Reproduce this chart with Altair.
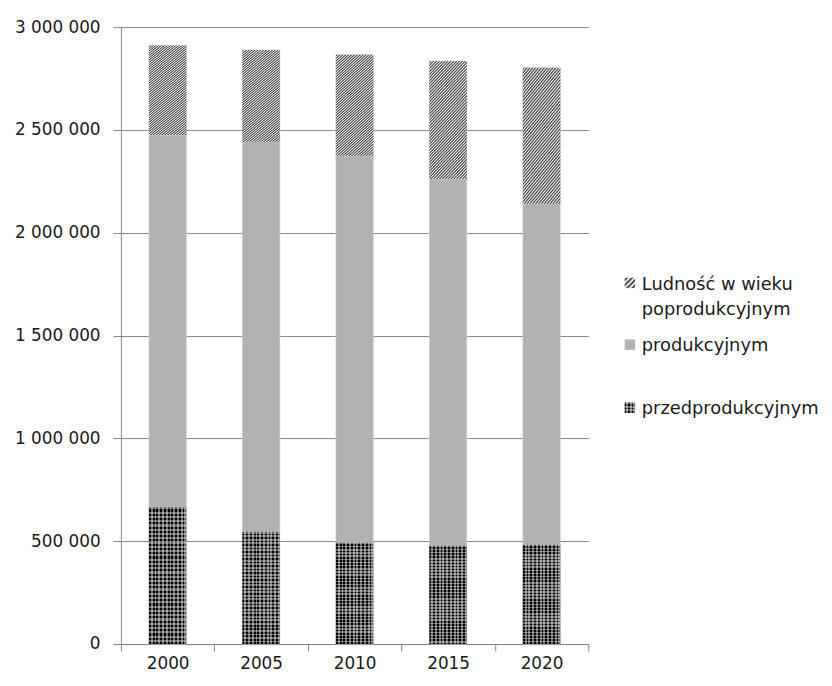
import altair as alt
import pandas as pd

# ---- data ----
years = ["2000", "2005", "2010", "2015", "2020"]
przedprodukcyjny = [665000, 546000, 493000, 478000, 483000]
produkcyjny = [1810000, 1897000, 1881000, 1783000, 1658000]
poprodukcyjny = [436000, 446000, 491000, 573000, 661000]

S_POST = "Ludność w wieku poprodukcyjnym"
S_PROD = "produkcyjnym"
S_PRE = "przedprodukcyjnym"
series = [S_POST, S_PROD, S_PRE]               # legend order (top -> bottom)
stack_rank = {S_PRE: 0, S_PROD: 1, S_POST: 2}  # stacking order (bottom -> top)
y_ticks = [0, 500000, 1000000, 1500000, 2000000, 2500000, 3000000]

rows = []
for i, yr in enumerate(years):
    rows.append({"rok": yr, "grupa": S_PRE, "ludnosc": przedprodukcyjny[i], "ord": stack_rank[S_PRE]})
    rows.append({"rok": yr, "grupa": S_PROD, "ludnosc": produkcyjny[i], "ord": stack_rank[S_PROD]})
    rows.append({"rok": yr, "grupa": S_POST, "ludnosc": poprodukcyjny[i], "ord": stack_rank[S_POST]})
df = pd.DataFrame(rows)

FONT = "DejaVu Sans"
FS = 17
FS_LEG = 18
TXT = "#1a1a1a"
GRID = "#868686"
PROD_GREY = "#b2b2b2"


# ---- pattern-like gradient fills ----
def soft_stripes(n, dark, light, x2, y2):
    stops = []
    for i in range(n):
        stops += [
            {"offset": i / n, "color": light},
            {"offset": (i + 0.35) / n, "color": dark},
            {"offset": (i + 0.55) / n, "color": dark},
            {"offset": (i + 0.9) / n, "color": light},
        ]
    stops.append({"offset": 1, "color": light})
    return {"gradient": "linear", "x1": 0, "y1": 0, "x2": x2, "y2": y2, "stops": stops}


def hard_stripes(n, c1, c2, x2, y2):
    stops = []
    for i in range(n):
        m = (i + 0.5) / n
        stops += [
            {"offset": i / n, "color": c1},
            {"offset": m, "color": c1},
            {"offset": m, "color": c2},
            {"offset": (i + 1) / n, "color": c2},
        ]
    return {"gradient": "linear", "x1": 0, "y1": 0, "x2": x2, "y2": y2, "stops": stops}


k = 3.0
a = (1 + k) / (1 + k * k)
hatch = soft_stripes(52, "#4a4a4a", "#f8f8f8", a, a * k)
check_v = hard_stripes(10, "#000000", "#6e6e6e", 1, 0)
check_h = hard_stripes(32, "rgba(255,255,255,0.4)", "rgba(255,255,255,0)", 0, 1)

hatch_sym = soft_stripes(4, "#4a4a4a", "#f8f8f8", 1, 1)
check_v_sym = hard_stripes(3, "#000000", "#6e6e6e", 1, 0)
check_h_sym = hard_stripes(3, "rgba(255,255,255,0.4)", "rgba(255,255,255,0)", 0, 1)

x_enc = alt.X(
    "rok:N",
    title=None,
    sort=years,
    scale=alt.Scale(paddingInner=0, paddingOuter=0),
    axis=alt.Axis(
        tickBand="extent",
        tickSize=7,
        tickColor=GRID,
        domainColor=GRID,
        labelAngle=0,
        labelFont=FONT,
        labelFontSize=FS,
        labelColor=TXT,
        labelPadding=5,
        grid=False,
    ),
)
y_axis = alt.Axis(
    values=y_ticks,
    labelExpr="replace(format(datum.value, ','), regexp(',', 'g'), ' ')",
    tickSize=8,
    tickColor=GRID,
    domainColor=GRID,
    gridColor=GRID,
    labelFont=FONT,
    labelFontSize=FS,
    labelColor=TXT,
    labelPadding=13,
)
y_scale = alt.Scale(domain=[0, 3000000], nice=False)
y_enc = alt.Y("v0:Q", title=None, scale=y_scale, axis=y_axis)

base = alt.Chart(df).transform_stack(
    stack="ludnosc",
    groupby=["rok"],
    as_=["v0", "v1"],
    sort=[alt.SortField("ord", order="ascending")],
)

bar_w = alt.RelativeBandSize(0.4)

solid = base.mark_bar(width=bar_w, stroke="#d0d0d0", strokeWidth=0.6).encode(
    x=x_enc,
    y=y_enc,
    y2="v1:Q",
    color=alt.Color(
        "grupa:N",
        scale=alt.Scale(domain=series, range=["#9a9a9a", PROD_GREY, "#454545"]),
        legend=None,
    ),
)

post_layer = base.transform_filter(alt.datum.grupa == S_POST).mark_bar(
    width=bar_w, fill=hatch
).encode(x=x_enc, y=y_enc, y2="v1:Q")

pre_v = base.transform_filter(alt.datum.grupa == S_PRE).mark_bar(
    width=bar_w, fill=check_v
).encode(x=x_enc, y=y_enc, y2="v1:Q")

pre_h = base.transform_filter(alt.datum.grupa == S_PRE).mark_bar(
    width=bar_w, fill=check_h
).encode(x=x_enc, y=y_enc, y2="v1:Q")

# ---- legend (drawn as marks so the patterned swatches can be shown) ----
SYM_X = 514
SYM_Y = [258.3, 320.7, 384.3]
TXT_X = 526
TXT_Y = [265, 327, 390.5]
SYM_SIZE = 112

legend_labels = [S_POST.replace("wieku ", "wieku\n"), S_PROD, S_PRE]
legend_fills = [[hatch_sym], [PROD_GREY], [check_v_sym, check_h_sym]]

legend_layers = []
for lbl, fills, sy, ty in zip(legend_labels, legend_fills, SYM_Y, TXT_Y):
    src = alt.Chart(pd.DataFrame({"etykieta": [lbl]}))
    for f in fills:
        legend_layers.append(
            src.mark_square(size=SYM_SIZE, fill=f, opacity=1, strokeWidth=0).encode(
                x=alt.value(SYM_X), y=alt.value(sy)
            )
        )
    legend_layers.append(
        src.mark_text(
            align="left",
            baseline="alphabetic",
            font=FONT,
            fontSize=FS_LEG,
            color=TXT,
            lineBreak="\n",
            lineHeight=26,
        ).encode(x=alt.value(TXT_X), y=alt.value(ty), text="etykieta:N")
    )

chart = (
    alt.layer(solid, post_layer, pre_v, pre_h, *legend_layers)
    .properties(
        width=472,
        height=623,
        autosize=alt.AutoSizeParams(type="none"),
        padding={"left": 114, "top": 16, "right": 238, "bottom": 31},
        background="white",
    )
    .configure_view(stroke=None)
)

chart.save("out.html", embed_options={"renderer": "svg", "actions": False})
